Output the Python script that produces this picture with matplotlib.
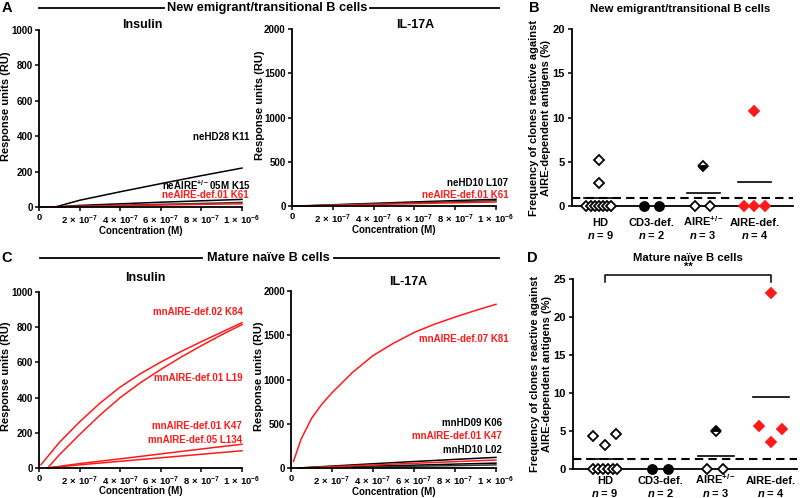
import numpy as np
import matplotlib
matplotlib.use('Agg')
import matplotlib.pyplot as plt
from matplotlib.lines import Line2D

plt.rcParams['font.family'] = ['Liberation Sans', 'DejaVu Sans']
plt.rcParams['font.weight'] = 'bold'
plt.rcParams['mathtext.fontset'] = 'custom'
plt.rcParams['mathtext.rm'] = 'Liberation Sans:bold'
plt.rcParams['mathtext.it'] = 'Liberation Sans:bold:italic'
plt.rcParams['mathtext.bf'] = 'Liberation Sans:bold'
plt.rcParams['axes.linewidth'] = 1.3

RED = '#ff1a1a'

# --- binding curves (concentration in uM, response in RU) ---
# A, insulin
a_ins_conc = [0.08, 0.2, 0.4, 0.6, 0.8, 1.0]
a_ins_hd28 = [0, 38, 86, 132, 177, 220]
a_ins_het05 = [0, 9, 18, 27, 35, 43]
a_ins_grey = [0, 5, 10, 15, 20, 26]
a_ins_def_conc = [0, 0.2, 0.4, 0.6, 0.8, 1.0]
a_ins_def01 = [0, 4, 8, 11, 15, 18]

# A, IL-17A
a_il_conc = [0.05, 0.2, 0.4, 0.6, 0.8, 1.0]
a_il_hd10 = [0, 14, 30, 46, 61, 75]
a_il_grey = [0, 11, 24, 36, 48, 60]
a_il_def_conc = [0, 0.2, 0.4, 0.6, 0.8, 1.0]
a_il_def01 = [0, 9, 18, 27, 36, 45]

# C, insulin
c_ins_k84_conc = [0.01, 0.1, 0.2, 0.3, 0.4, 0.5, 0.6, 0.7, 0.8, 0.9, 1.0]
c_ins_k84 = [19, 145, 262, 368, 460, 536, 602, 662, 718, 772, 826]
c_ins_l19_conc = [0.043, 0.1, 0.2, 0.3, 0.4, 0.5, 0.6, 0.7, 0.8, 0.9, 1.0]
c_ins_l19 = [0, 75, 190, 300, 400, 485, 560, 630, 695, 757, 815]
c_ins_low_conc = [0.04, 0.2, 0.4, 0.6, 0.8, 1.0]
c_ins_k47 = [0, 25, 52, 80, 108, 135]
c_ins_l134 = [0, 18, 38, 58, 78, 98]

# C, IL-17A
c_il_k81_conc = [0.012, 0.05, 0.1, 0.15, 0.2, 0.3, 0.4, 0.5, 0.6, 0.7, 0.8, 0.9, 1.0]
c_il_k81 = [75, 330, 560, 720, 850, 1080, 1270, 1410, 1530, 1625, 1705, 1780, 1850]
c_il_low_conc = [0.035, 0.2, 0.4, 0.6, 0.8, 1.0]
c_il_hd09 = [0, 22, 48, 73, 97, 120]
c_il_k47 = [0, 16, 35, 53, 72, 90]
c_il_hd10 = [0, 10, 21, 32, 44, 55]
c_il_grey = [0, 6, 13, 20, 27, 35]

# --- frequency of reactive clones (%) ---
group_names = ['HD', 'CD3-def.', 'AIRE$^{+/-}$', 'AIRE-def.']
group_n = [9, 2, 3, 4]
b_hd = [5.2, 2.6, 0, 0, 0, 0, 0, 0, 0]
b_cd3 = [0, 0]
b_het = [4.5, 0, 0]
b_def = [10.7, 0, 0, 0]
b_cutoff = 0.85
d_hd = [4.3, 3.2, 4.6, 0, 0, 0, 0, 0, 0]
d_cd3 = [0, 0]
d_het = [5.0, 0, 0]
d_def = [23.1, 5.65, 3.6, 5.3]
d_cutoff = 1.3

# horizontal spread of the dots inside each group
b_hd_off = [-0.02, -0.02, -0.27, -0.19, -0.11, -0.03, 0.05, 0.13, 0.21]
d_hd_off = [-0.22, 0, 0.2, -0.22, -0.13, -0.04, 0.05, 0.14, 0.22]
cd3_off = [-0.15, 0.14]
het_off = [0, -0.15, 0.14]
b_def_off = [0, -0.2, 0, 0.2]
d_def_off = [0, -0.22, 0, 0.2]

W, H = 800, 498
fig = plt.figure(figsize=(8, 4.98), dpi=100)


def box(l, t, r, b):
    return [l / W, 1 - b / H, (r - l) / W, (b - t) / H]


def ftext(x, y, s, **kw):
    fig.text(x / W, 1 - y / H, s, ha='center', va='center', **kw)


def hline(x0, x1, y):
    fig.add_artist(Line2D([x0 / W, x1 / W], [1 - y / H, 1 - y / H],
                          transform=fig.transFigure, color='k', lw=1.3))


def curve_axes(rect, ymax, yticks, lab_x, lab_y):
    ax = fig.add_axes(rect)
    ax.set_xlim(0, 1e-6)
    ax.set_ylim(0, ymax)
    ax.set_xticks([0, 2e-7, 4e-7, 6e-7, 8e-7, 1e-6])
    ax.set_xticklabels(['0'] + [r'$%d\,\times\,10^{-%d}$' % (m, e)
                                for m, e in [(2, 7), (4, 7), (6, 7), (8, 7), (1, 6)]])
    ax.set_yticks(yticks)
    ax.tick_params(axis='x', labelsize=6.8, length=3, width=1.1, pad=1.5)
    ax.tick_params(axis='y', labelsize=7, length=3, width=1.1, pad=1.5)
    for s in ['top', 'right']:
        ax.spines[s].set_visible(False)
    ax.set_xlabel('Concentration (M)', fontsize=7, fontweight='bold')
    ax.set_ylabel('Response units (RU)', fontsize=8, fontweight='bold')
    ax.xaxis.set_label_coords(0.5, -0.105)
    ax.yaxis.set_label_coords(lab_x, lab_y)
    return ax


def draw(ax, conc, vals, color):
    ax.plot(np.array(conc) * 1e-6, vals, color=color, lw=1.1, clip_on=False)


def label(ax, x, y, s, color='k'):
    ax.text(x * 1e-6, y, s, ha='right', va='center', fontsize=7, color=color,
            fontweight='bold', clip_on=False)


# ---------------- A ----------------
ax = curve_axes(box(39, 30, 242, 207), 1000, [0, 200, 400, 600, 800, 1000], -0.138, 0.57)
draw(ax, a_ins_conc, a_ins_hd28, 'k')
draw(ax, a_ins_conc, a_ins_het05, 'k')
draw(ax, a_ins_conc, a_ins_grey, '#333333')
draw(ax, a_ins_def_conc, a_ins_def01, RED)
label(ax, 1.035, 396, 'neHD28 K11')
label(ax, 1.044, 126, 'neAIRE$^{+/-}$05M K15')
label(ax, 1.035, 66, 'neAIRE-def.01 K61', RED)

ax = curve_axes(box(292, 29, 496, 206), 2000, [0, 500, 1000, 1500, 2000], -0.13, 0.57)
draw(ax, a_il_conc, a_il_hd10, 'k')
draw(ax, a_il_conc, a_il_grey, '#333333')
draw(ax, a_il_def_conc, a_il_def01, RED)
label(ax, 1.06, 255, 'neHD10 L107')
label(ax, 1.06, 125, 'neAIRE-def.01 K61', RED)

# ---------------- C ----------------
ax = curve_axes(box(39, 292, 242, 468), 1000, [0, 200, 400, 600, 800, 1000], -0.138, 0.52)
draw(ax, c_ins_k84_conc, c_ins_k84, RED)
draw(ax, c_ins_l19_conc, c_ins_l19, RED)
draw(ax, c_ins_low_conc, c_ins_k47, RED)
draw(ax, c_ins_low_conc, c_ins_l134, RED)
label(ax, 1.005, 887, 'mnAIRE-def.02 K84', RED)
label(ax, 1.005, 509, 'mnAIRE-def.01 L19', RED)
label(ax, 1.0, 236, 'mnAIRE-def.01 K47', RED)
label(ax, 1.0, 160, 'mnAIRE-def.05 L134', RED)

ax = curve_axes(box(291, 291, 496, 468), 2000, [0, 500, 1000, 1500, 2000], -0.13, 0.52)
draw(ax, c_il_low_conc, c_il_hd09, 'k')
draw(ax, c_il_low_conc, c_il_hd10, 'k')
draw(ax, c_il_low_conc, c_il_grey, '#333333')
draw(ax, c_il_low_conc, c_il_k47, RED)
draw(ax, c_il_k81_conc, c_il_k81, RED)
label(ax, 1.06, 1455, 'mnAIRE-def.07 K81', RED)
label(ax, 1.03, 507, 'mnHD09 K06')
label(ax, 1.03, 357, 'mnAIRE-def.01 K47', RED)
label(ax, 1.03, 207, 'mnHD10 L02')


# ---------------- B / D ----------------
def freq_axes(rect, xlim, ymax, step, hd, hd_off, cd3, het, het_fill, dfc, def_off,
              cutoff, name_y, n_y):
    ax = fig.add_axes(rect)
    ax.set_xlim(*xlim)
    ax.set_ylim(0, ymax)
    ax.set_yticks(np.arange(0, ymax + 1, step))
    ax.set_xticks([1, 2, 3, 4])
    ax.set_xticklabels([])
    ax.tick_params(axis='x', length=0)
    ax.tick_params(axis='y', labelsize=8, length=3, width=1.1, pad=2)
    for s in ['top', 'right']:
        ax.spines[s].set_visible(False)
    tr = ax.get_xaxis_transform()
    for i, (nm, n) in enumerate(zip(group_names, group_n)):
        ax.text(i + 1, name_y, nm, transform=tr, ha='center', va='baseline',
                fontsize=8, fontweight='bold')
        ax.text(i + 1, n_y, '$n$ = %d' % n, transform=tr, ha='center', va='baseline',
                fontsize=8, fontweight='bold')
    ax.set_ylabel('Frequency of clones reactive against\nAIRE-dependent antigens (%)',
                  fontsize=8, fontweight='bold', linespacing=1.2)
    ax.yaxis.set_label_coords(-0.095, 0.5)
    mk = dict(ls='none', ms=5.5, mew=1.3, clip_on=False, zorder=4)
    ax.plot(1 + np.array(hd_off), hd, marker='D', mfc='white', mec='k', **mk)
    ax.plot(2 + np.array(cd3_off), cd3, marker='o', mfc='k', mec='k',
            **dict(mk, ms=6.5))
    ax.plot(3 + np.array(het_off[1:]), het[1:], marker='D', mfc='white', mec='k', **mk)
    ax.plot(3 + het_off[0], het[0], marker='D', mfc='k', mfcalt='white',
            fillstyle=het_fill, mec='k', **mk)
    ax.plot(4 + np.array(def_off), dfc, marker='D', mfc=RED, mec=RED, **mk)
    for i, vals in enumerate([hd, cd3, het, dfc]):
        m = np.mean(vals)
        if m > 0:
            ax.plot([i + 1 - 0.32, i + 1 + 0.33], [m, m], color='k', lw=1.2, zorder=3)
    ax.axhline(cutoff, color='k', lw=1.5, ls=(0, (4, 2.5)), zorder=3)
    return ax


freq_axes(box(572, 29, 793, 206), (0.45, 4.75), 20, 5, b_hd, b_hd_off, b_cd3, b_het,
          'bottom', b_def, b_def_off, b_cutoff, -0.112, -0.185)
ax = freq_axes(box(573, 279, 797, 469), (0.42, 4.47), 25, 5, d_hd, d_hd_off, d_cd3, d_het,
               'top', d_def, d_def_off, d_cutoff, -0.08, -0.146)
ax.plot([1, 1, 4, 4], [24.6, 25.5, 25.5, 24.6], color='k', lw=1.1, clip_on=False)
ax.text(2.5, 25.9, '**', ha='center', va='bottom', fontsize=8, fontweight='bold')

# ---------------- titles / headers ----------------
ftext(7, 8, 'A', fontsize=10.5, fontweight='bold')
ftext(534, 8, 'B', fontsize=10.5, fontweight='bold')
ftext(7, 258, 'C', fontsize=10.5, fontweight='bold')
ftext(532, 258, 'D', fontsize=10.5, fontweight='bold')

hline(39, 164, 8)
hline(370, 499, 8)
ftext(267, 8, 'New emigrant/transitional B cells', fontsize=9.2, fontweight='bold')
hline(40, 202, 258)
hline(334, 499, 258)
ftext(268, 258, 'Mature naïve B cells', fontsize=9.2, fontweight='bold')

ftext(142, 25, 'Insulin', fontsize=9, fontweight='bold')
ftext(415, 25, 'IL-17A', fontsize=9, fontweight='bold')
ftext(145, 278, 'Insulin', fontsize=9, fontweight='bold')
ftext(408, 282, 'IL-17A', fontsize=9, fontweight='bold')
ftext(680, 9, 'New emigrant/transitional B cells', fontsize=8.2, fontweight='bold')
ftext(688, 258, 'Mature naïve B cells', fontsize=8.2, fontweight='bold')

fig.savefig('out.png', dpi=100)
